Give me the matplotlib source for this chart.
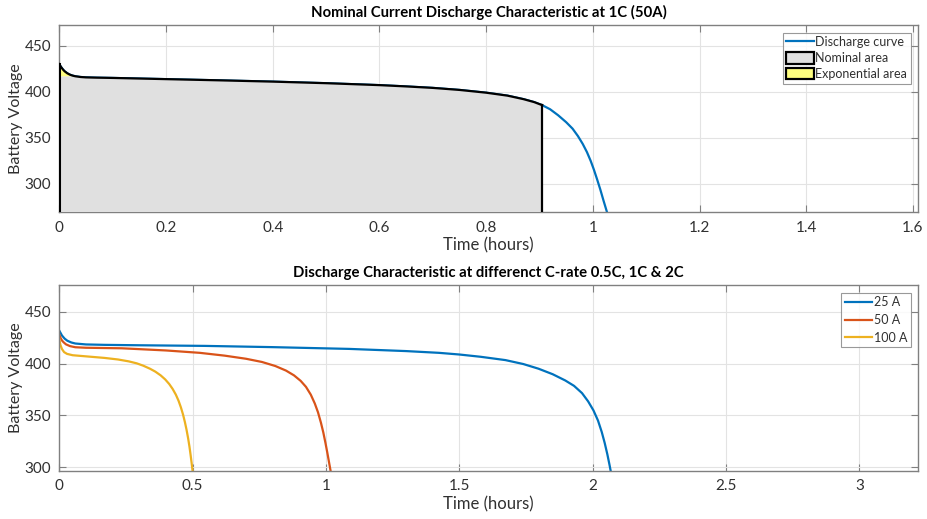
import matplotlib
matplotlib.use("Agg")
import matplotlib.pyplot as plt
from matplotlib.patches import Patch
from matplotlib.lines import Line2D

plt.rcParams['font.family'] = ['Lato', 'DejaVu Sans']

# ---- Data: top chart (1C, 50 A) ----
t_1c = [0.0, 0.0025, 0.005, 0.0075, 0.01, 0.015, 0.02, 0.025, 0.03, 0.04, 0.05, 0.07, 0.1,
        0.2, 0.3, 0.4, 0.5, 0.6, 0.65, 0.7, 0.75, 0.8, 0.84, 0.87, 0.89, 0.905, 0.92, 0.935,
        0.95, 0.962, 0.972, 0.981, 0.989, 0.996, 1.002, 1.008, 1.014, 1.02, 1.026, 1.028]
v_1c = [430.0, 427.5, 425.5, 423.7, 422.2, 420.0, 418.5, 417.5, 416.8, 416.0, 415.6, 415.3,
        415.0, 413.7, 412.4, 411.0, 409.3, 407.2, 405.8, 404.2, 402.0, 399.0, 395.8, 392.0,
        388.8, 385.5, 381.0, 374.5, 367.0, 360.0, 352.0, 343.5, 334.5, 325.0, 315.5, 305.0,
        294.0, 282.0, 270.5, 266.5]
t_nominal_end = 0.905
t_exp_end = 0.03
v_exp_end = 416.8

# ---- Data: bottom chart (different C-rates) ----
t_25 = [0.0, 0.01, 0.02, 0.03, 0.045, 0.06, 0.1, 0.17, 0.3, 0.546, 0.8, 1.087, 1.3, 1.424,
        1.5, 1.58, 1.673, 1.74, 1.797, 1.85, 1.897, 1.93, 1.96, 1.983, 2.003, 2.02, 2.034,
        2.045, 2.055, 2.063, 2.069]
v_25 = [431.7, 427.0, 424.0, 422.0, 420.3, 419.3, 418.4, 418.0, 417.6, 417.0, 415.8, 414.1,
        412.0, 410.3, 408.7, 406.5, 403.3, 399.5, 395.0, 389.7, 383.7, 378.5, 371.5, 363.5,
        354.8, 345.0, 334.0, 323.5, 312.5, 302.5, 294.5]
t_50 = [0.0, 0.005, 0.01, 0.016, 0.025, 0.04, 0.06, 0.1, 0.234, 0.4, 0.527, 0.62, 0.7,
        0.76, 0.81, 0.85, 0.88, 0.905, 0.925, 0.943, 0.958, 0.97, 0.981, 0.99, 0.998, 1.005,
        1.012, 1.018]
v_50 = [427.9, 424.5, 422.2, 420.5, 418.5, 416.8, 415.7, 415.2, 414.7, 412.6, 410.3, 407.6,
        404.6, 401.5, 397.6, 393.2, 388.6, 383.3, 377.5, 370.0, 361.5, 353.0, 343.0, 333.5,
        323.5, 314.0, 304.0, 295.5]
t_100 = [0.0, 0.004, 0.01, 0.018, 0.029, 0.05, 0.11, 0.17, 0.22, 0.26, 0.29, 0.315, 0.34,
         0.36, 0.38, 0.397, 0.412, 0.425, 0.437, 0.447, 0.456, 0.464, 0.471, 0.477, 0.483,
         0.488, 0.492, 0.496, 0.5]
v_100 = [423.7, 418.0, 414.0, 411.0, 409.3, 408.0, 406.7, 405.4, 403.9, 402.1, 400.2, 397.9,
         395.0, 392.2, 388.6, 384.7, 380.3, 375.5, 370.0, 364.2, 357.7, 350.8, 343.5, 336.3,
         328.0, 320.0, 312.5, 304.5, 296.0]

labels_bottom = ['25 A', '50 A', '100 A']

BLUE = '#0072BD'
ORANGE = '#D95319'
YELLOW = '#EDB120'
TXT = '#303030'
AX = '#808080'

fig = plt.figure(figsize=(9.28, 5.19), dpi=100)
ax1 = fig.add_axes([59.3/928, 1-212.3/519, (918.3-59.3)/928, (212.3-25)/519])
ax2 = fig.add_axes([59.3/928, 1-471/519, (918.3-59.3)/928, (471-285)/519])


def style(ax):
    ax.grid(True, color='#e3e3e3', linewidth=0.8)
    ax.set_axisbelow(True)
    for s in ax.spines.values():
        s.set_color(AX)
        s.set_linewidth(1.0)
    ax.tick_params(direction='in', top=True, right=True, length=5, color=AX,
                   labelcolor=TXT, labelsize=11, pad=6)


# ---- top chart ----
y0_top = 269.3
ax1.set_xlim(0, 1.61)
ax1.set_ylim(y0_top, 472.4)
style(ax1)

nom_t = [t for t in t_1c if t <= t_nominal_end]
nom_v = [v for t, v in zip(t_1c, v_1c) if t <= t_nominal_end]

# discharge curve (full)
ax1.plot(t_1c, v_1c, color=BLUE, linewidth=1.6, zorder=2)

# nominal area
poly_t = [0.0, 0.0] + [t for t in nom_t if t >= t_exp_end] + [t_nominal_end]
poly_v = [y0_top, v_exp_end] + [v for t, v in zip(nom_t, nom_v) if t >= t_exp_end] + [y0_top]
ax1.fill(poly_t, poly_v, color='#e0e0e0', edgecolor='none', zorder=3)

# exponential area
exp_t = [t for t in nom_t if t <= t_exp_end] + [0.0]
exp_v = [v for t, v in zip(nom_t, nom_v) if t <= t_exp_end] + [v_exp_end]
ax1.fill(exp_t, exp_v, color='#ffff80', edgecolor='none', zorder=3)

# black outlines
ax1.plot(nom_t, nom_v, color='black', linewidth=1.6, zorder=4)
ax1.plot([0, 0], [y0_top, nom_v[0]], color='black', linewidth=2.2, zorder=4)
ax1.plot([t_nominal_end, t_nominal_end], [y0_top, nom_v[-1]], color='black', linewidth=1.6, zorder=4)

ax1.set_xticks([0, 0.2, 0.4, 0.6, 0.8, 1.0, 1.2, 1.4, 1.6])
ax1.set_xticklabels(['0', '0.2', '0.4', '0.6', '0.8', '1', '1.2', '1.4', '1.6'])
ax1.set_yticks([300, 350, 400, 450])
ax1.set_xlabel('Time (hours)', fontsize=12, color=TXT, labelpad=2)
ax1.set_ylabel('Battery Voltage', fontsize=11.5, color=TXT, labelpad=1)
ax1.set_title('Nominal Current Discharge Characteristic at 1C (50A)', fontsize=10.7,
              fontweight='bold', color='black', pad=6)

handles1 = [Line2D([], [], color=BLUE, linewidth=1.6),
            Patch(facecolor='#e0e0e0', edgecolor='black', linewidth=1.6),
            Patch(facecolor='#ffff80', edgecolor='black', linewidth=1.6)]
leg1 = ax1.legend(handles1, ['Discharge curve', 'Nominal area', 'Exponential area'],
                  loc='upper right', fontsize=9, frameon=True, fancybox=False,
                  edgecolor=AX, borderpad=0.3, labelspacing=0.3, handlelength=2.2,
                  handleheight=1.05, handletextpad=0.1, borderaxespad=0.6)
leg1.get_frame().set_linewidth(0.8)
for txt in leg1.get_texts():
    txt.set_color(TXT)

# ---- bottom chart ----
ax2.set_xlim(0, 3.221)
ax2.set_ylim(296.4, 475.7)
style(ax2)
for t, v, c, lab in zip([t_25, t_50, t_100], [v_25, v_50, v_100],
                        [BLUE, ORANGE, YELLOW], labels_bottom):
    ax2.plot(t, v, color=c, linewidth=1.6, label=lab)
ax2.set_xticks([0, 0.5, 1.0, 1.5, 2.0, 2.5, 3.0])
ax2.set_xticklabels(['0', '0.5', '1', '1.5', '2', '2.5', '3'])
ax2.set_yticks([300, 350, 400, 450])
ax2.set_xlabel('Time (hours)', fontsize=12, color=TXT, labelpad=2)
ax2.set_ylabel('Battery Voltage', fontsize=11.5, color=TXT, labelpad=1)
ax2.set_title('Discharge Characteristic at differenct C-rate 0.5C, 1C & 2C', fontsize=10.7,
              fontweight='bold', color='black', pad=6)
leg2 = ax2.legend(loc='upper right', fontsize=9, frameon=True, fancybox=False,
                  edgecolor=AX, borderpad=0.3, labelspacing=0.45, handlelength=2.2,
                  handletextpad=0.1, borderaxespad=0.6)
leg2.get_frame().set_linewidth(0.8)
for txt in leg2.get_texts():
    txt.set_color(TXT)

fig.savefig('out.png', dpi=100)
